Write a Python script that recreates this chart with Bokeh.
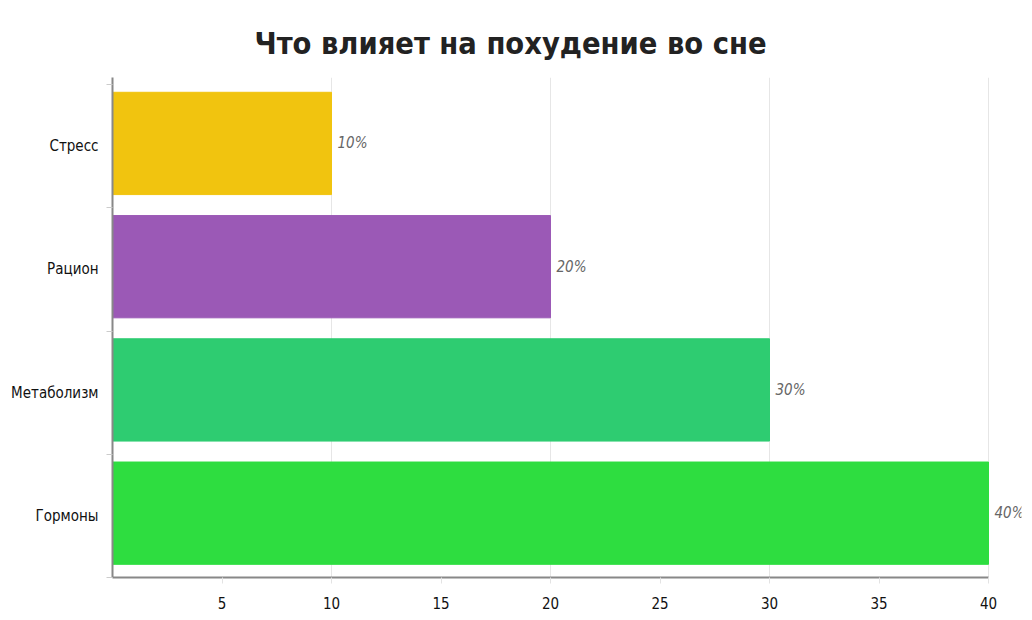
from bokeh.plotting import figure
from bokeh.models import Range1d, FixedTicker, ColumnDataSource, SingleIntervalTicker
from bokeh.core.properties import value
from bokeh.embed import file_html
from bokeh.resources import INLINE

# data, top to bottom as in the chart
factors = ["Стресс", "Рацион", "Метаболизм", "Гормоны"]
shares = [10, 20, 30, 40]
colors = ["#f1c40f", "#9b59b6", "#2ecc71", "#2edd40"]
x_ticks = [5, 10, 15, 20, 25, 30, 35, 40]
title_text = "Что влияет на похудение во сне"

FONT = "'DejaVu Sans Condensed', Roboto, sans-serif"

n = len(factors)
ypos = [n - 1 - i for i in range(n)]
labels = [f"{v}%" for v in shares]

# bars sit a touch above the band centre in the original
nudge = 0.022
src = ColumnDataSource(data=dict(y=[y + nudge for y in ypos], v=shares,
                                 c=colors, lab=labels))

frame_w = 909
px_per_unit = 21.9

p = figure(frame_width=frame_w, frame_height=500,
           x_range=Range1d(0, frame_w / px_per_unit),
           y_range=Range1d(-0.5, n - 0.5 + 0.057),
           output_backend="svg", toolbar_location=None,
           min_border_left=112, min_border_top=77, min_border_right=3,
           min_border_bottom=30,
           title=title_text)

p.title.text_font = FONT
p.title.text_font_size = "30.5px"
p.title.text_font_style = "bold"
p.title.text_color = "#222222"
p.title.align = "left"
p.title.offset = 142
p.title.standoff = 34

p.hbar(y="y", right="v", left=0, height=0.83, color="c", source=src)
p.text(x="v", y="y", text="lab", source=src, x_offset=6,
       text_baseline="middle", text_align="left",
       text_font=value(FONT), text_font_size="15px",
       text_font_style="italic", text_color="#666666")

# x axis
p.xaxis.ticker = FixedTicker(ticks=x_ticks)
p.xaxis.bounds = (0, 40)
p.xaxis.axis_line_color = "#888888"
p.xaxis.axis_line_width = 2
p.xaxis.major_tick_line_color = "#e3e3e3"
p.xaxis.major_tick_in = 0
p.xaxis.major_tick_out = 6
p.xaxis.minor_tick_line_color = None
p.xaxis.major_label_text_font = FONT
p.xaxis.major_label_text_font_size = "15px"
p.xaxis.major_label_text_color = "#111111"
p.xaxis.major_label_standoff = 13

# y axis: labels at centres, small ticks at band edges
edges = [i - 0.5 for i in range(n + 1)]
p.yaxis.ticker = FixedTicker(ticks=ypos, minor_ticks=edges)
p.yaxis.major_label_overrides = {y: f for y, f in zip(ypos, factors)}
p.yaxis.axis_line_color = "#888888"
p.yaxis.axis_line_width = 2
p.yaxis.major_tick_line_color = None
p.yaxis.major_tick_in = 0
p.yaxis.major_tick_out = 0
p.yaxis.minor_tick_line_color = "#cccccc"
p.yaxis.minor_tick_in = 0
p.yaxis.minor_tick_out = 6
p.yaxis.major_label_text_font = FONT
p.yaxis.major_label_text_font_size = "15px"
p.yaxis.major_label_text_color = "#111111"
p.yaxis.major_label_standoff = 8

p.ygrid.grid_line_color = None
p.xgrid.ticker = SingleIntervalTicker(interval=10)
p.xgrid.grid_line_color = "#e6e6e6"
p.xgrid.bounds = (0, 40)

p.outline_line_color = None

open("out.html", "w").write(file_html(p, INLINE))
